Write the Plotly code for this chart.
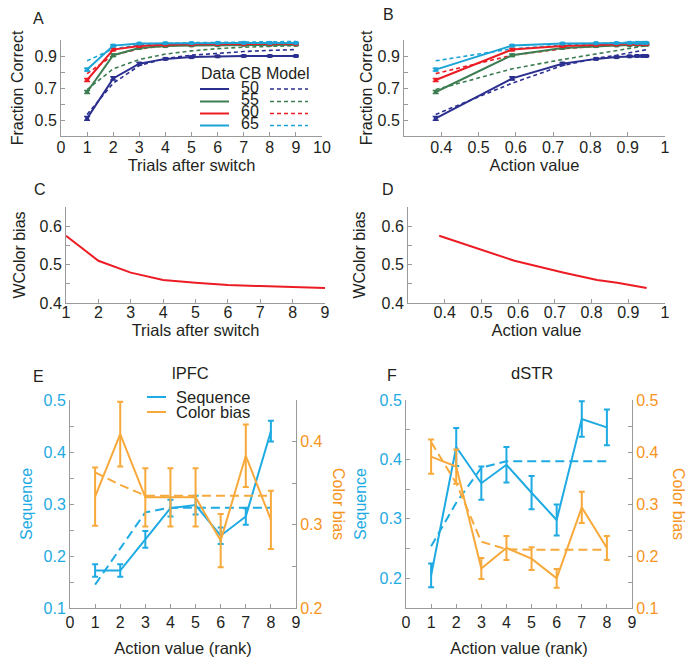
import plotly.graph_objects as go

# ---------------- data ----------------
trials = [1, 2, 3, 4, 5, 6, 7, 8, 9]
action_value = [0.385, 0.59, 0.725, 0.815, 0.87, 0.905, 0.925, 0.94, 0.95]

cb_labels = ["50", "55", "60", "65"]
data50 = [0.51, 0.76, 0.852, 0.882, 0.893, 0.898, 0.900, 0.900, 0.900]
data55 = [0.675, 0.905, 0.950, 0.962, 0.966, 0.968, 0.970, 0.970, 0.970]
data60 = [0.750, 0.940, 0.962, 0.970, 0.973, 0.975, 0.975, 0.976, 0.976]
data65 = [0.815, 0.965, 0.978, 0.980, 0.981, 0.982, 0.982, 0.982, 0.982]
err50 = [0.012, 0.010, 0.008, 0.006, 0.006, 0.005, 0.005, 0.005, 0.005]
err55 = [0.010, 0.008, 0.006, 0.005, 0.005, 0.004, 0.004, 0.004, 0.004]
err60 = [0.010, 0.007, 0.005, 0.004, 0.004, 0.004, 0.004, 0.004, 0.004]
err65 = [0.009, 0.006, 0.004, 0.004, 0.004, 0.004, 0.004, 0.004, 0.004]
model50 = [0.535, 0.730, 0.840, 0.885, 0.905, 0.918, 0.928, 0.935, 0.940]
model55 = [0.690, 0.820, 0.878, 0.912, 0.932, 0.946, 0.955, 0.961, 0.965]
model60 = [0.790, 0.905, 0.945, 0.963, 0.972, 0.977, 0.980, 0.982, 0.983]
model65 = [0.870, 0.945, 0.968, 0.978, 0.983, 0.986, 0.988, 0.989, 0.990]

wcolor_bias = [0.575, 0.510, 0.479, 0.460, 0.453, 0.447, 0.444, 0.441, 0.439]

rank = [1, 2, 3, 4, 5, 6, 7, 8]
lpfc_seq = [0.172, 0.172, 0.232, 0.292, 0.298, 0.239, 0.276, 0.440]
lpfc_seq_err = [0.012, 0.012, 0.016, 0.016, 0.018, 0.016, 0.016, 0.020]
lpfc_seq_model = [0.145, 0.215, 0.284, 0.293, 0.293, 0.293, 0.293, 0.293]
lpfc_cb = [0.334, 0.409, 0.333, 0.333, 0.333, 0.281, 0.383, 0.306]
lpfc_cb_err = [0.035, 0.039, 0.035, 0.035, 0.035, 0.032, 0.0375, 0.035]
lpfc_cb_model = [0.363, 0.348, 0.335, 0.335, 0.335, 0.335, 0.335, 0.335]

dstr_seq = [0.205, 0.421, 0.360, 0.391, 0.344, 0.298, 0.468, 0.454]
dstr_seq_err = [0.020, 0.032, 0.028, 0.030, 0.028, 0.026, 0.030, 0.030]
dstr_seq_model = [0.254, 0.327, 0.386, 0.397, 0.397, 0.397, 0.397, 0.397]
dstr_cb = [0.391, 0.372, 0.176, 0.2155, 0.195, 0.157, 0.2935, 0.2155]
dstr_cb_err = [0.033, 0.033, 0.020, 0.023, 0.022, 0.018, 0.030, 0.023]
dstr_cb_model = [0.419, 0.340, 0.2275, 0.213, 0.212, 0.212, 0.212, 0.212]

# ---------------- style ----------------
W, H = 695, 667
FONT = "Liberation Sans, Arial, sans-serif"
TXT = "#231f20"
AX = "#9a9a9a"
BLUE, GREEN, RED, CYAN = "#2b2f8f", "#3d7d52", "#ec1c24", "#1ba3d6"
SEQ, CBC, CBT = "#1eaae2", "#f7a93b", "#f7941d"
ser_colors = [BLUE, GREEN, RED, CYAN]
data_all = [data50, data55, data60, data65]
err_all = [err50, err55, err60, err65]
model_all = [model50, model55, model60, model65]
FS_TICK = 16
FS_TITLE = 16.5


def fx(p):
    return p / W


def fy(p):
    return 1 - p / H


fig = go.Figure()

# Panels A and B
for xs, xa, ya in [(trials, "x", "y"), (action_value, "x2", "y2")]:
    for c, m in zip(ser_colors, model_all):
        fig.add_trace(go.Scatter(x=xs, y=m, mode="lines", xaxis=xa, yaxis=ya,
                                 line=dict(color=c, width=1.6, dash="4px,3px"),
                                 showlegend=False, cliponaxis=False))
    for c, d, e in zip(ser_colors, data_all, err_all):
        fig.add_trace(go.Scatter(x=xs, y=d, mode="lines+markers", xaxis=xa, yaxis=ya,
                                 line=dict(color=c, width=2),
                                 marker=dict(color=c, size=4, symbol="square"),
                                 error_y=dict(type="data", array=e, color=c,
                                              thickness=1.5, width=3),
                                 showlegend=False, cliponaxis=False))

# Panels C and D
for xs, xa, ya in [(trials, "x3", "y3"), (action_value, "x4", "y4")]:
    fig.add_trace(go.Scatter(x=xs, y=wcolor_bias, mode="lines", xaxis=xa, yaxis=ya,
                             line=dict(color=RED, width=2), showlegend=False,
                             cliponaxis=False))

# Panels E and F
for xa, yl, yr, sq, sqe, sqm, cb, cbe, cbm in [
        ("x5", "y5", "y6", lpfc_seq, lpfc_seq_err, lpfc_seq_model,
         lpfc_cb, lpfc_cb_err, lpfc_cb_model),
        ("x6", "y7", "y8", dstr_seq, dstr_seq_err, dstr_seq_model,
         dstr_cb, dstr_cb_err, dstr_cb_model)]:
    fig.add_trace(go.Scatter(x=rank, y=cbm, mode="lines", xaxis=xa, yaxis=yr,
                             line=dict(color=CBC, width=2, dash="9px,5px"),
                             showlegend=False, cliponaxis=False))
    fig.add_trace(go.Scatter(x=rank, y=cb, mode="lines", xaxis=xa, yaxis=yr,
                             line=dict(color=CBC, width=2),
                             error_y=dict(type="data", array=cbe, color=CBC,
                                          thickness=2, width=3),
                             showlegend=False, cliponaxis=False))
    fig.add_trace(go.Scatter(x=rank, y=sqm, mode="lines", xaxis=xa, yaxis=yl,
                             line=dict(color=SEQ, width=2, dash="9px,5px"),
                             showlegend=False, cliponaxis=False))
    fig.add_trace(go.Scatter(x=rank, y=sq, mode="lines", xaxis=xa, yaxis=yl,
                             line=dict(color=SEQ, width=2),
                             error_y=dict(type="data", array=sqe, color=SEQ,
                                          thickness=2, width=3),
                             showlegend=False, cliponaxis=False))


def xax(x0, x1, rng, tickvals, ticktext, title, minor=None, anchor=None, standoff=0,
        lab_shift=0):
    d = dict(domain=[fx(x0), fx(x1)], range=rng, tickvals=tickvals, ticktext=ticktext,
             showline=True, linecolor=AX, linewidth=1, ticks="inside", ticklen=4,
             tickcolor=AX, showgrid=False, zeroline=False, automargin=False,
             ticklabelstandoff=lab_shift,
             tickfont=dict(family=FONT, size=FS_TICK, color=TXT),
             title=dict(text=title, font=dict(family=FONT, size=FS_TITLE, color=TXT),
                        standoff=standoff),
             anchor=anchor, fixedrange=True)
    if minor:
        d["minor"] = dict(tickvals=minor, ticks="inside", ticklen=4, tickcolor=AX)
    return d


def yax(y_top, y_bottom, rng, major, minor, title, color=TXT, anchor=None,
        side="left", overlaying=None, standoff=8):
    d = dict(domain=[fy(y_bottom), fy(y_top)], range=rng, tickvals=major,
             ticktext=[f"{v:.1f}" for v in major],
             showline=True, linecolor=AX, linewidth=1, ticks="inside", ticklen=4,
             tickcolor=AX, showgrid=False, zeroline=False, automargin=False,
             tickfont=dict(family=FONT, size=FS_TICK, color=color),
             minor=dict(tickvals=minor, ticks="inside", ticklen=4, tickcolor=AX),
             anchor=anchor, side=side, fixedrange=True)
    if title:
        d["title"] = dict(text=title, font=dict(family=FONT, size=16, color=color),
                          standoff=standoff)
    if overlaying:
        d["overlaying"] = overlaying
    return d


av_ticks = [0.4, 0.5, 0.6, 0.7, 0.8, 0.9, 1.0]
av_text = ["0.4", "0.5", "0.6", "0.7", "0.8", "0.9", "1"]
ten = list(range(0, 11))
nine = list(range(0, 10))

fig.update_layout(
    template="none",
    width=W, height=H, margin=dict(l=0, r=0, t=0, b=0, autoexpand=False),
    paper_bgcolor="white", plot_bgcolor="white", showlegend=False,
    font=dict(family=FONT, color=TXT),
    xaxis=xax(61, 322, [0, 10], ten, [str(v) for v in ten],
              "Trials after switch", anchor="y", lab_shift=-3),
    yaxis=yax(40, 136, [0.4, 1.0], [0.5, 0.7, 0.9], [0.4, 0.6, 0.8, 1.0],
              "Fraction Correct", anchor="x", standoff=6),
    xaxis2=xax(404, 665, [0.3, 1.0], av_ticks, av_text, "Action value",
               minor=[0.3], anchor="y2", lab_shift=-3),
    yaxis2=yax(40, 136, [0.4, 1.0], [0.5, 0.7, 0.9], [0.4, 0.6, 0.8, 1.0],
               "Fraction Correct", anchor="x2", standoff=0),
    xaxis3=xax(66, 325, [1, 9], trials, [str(v) for v in trials],
               "Trials after switch", anchor="y3", lab_shift=-5),
    yaxis3=yax(207, 303, [0.4, 0.65], [0.4, 0.5, 0.6], [0.45, 0.55, 0.65],
               "WColor bias", anchor="x3", standoff=9),
    xaxis4=xax(408, 665, [0.3, 1.0], av_ticks, av_text, "Action value",
               minor=[0.3], anchor="y4", lab_shift=-5),
    yaxis4=yax(207, 303, [0.4, 0.65], [0.4, 0.5, 0.6], [0.45, 0.55, 0.65],
               "WColor bias", anchor="x4", standoff=11),
    xaxis5=xax(70, 296, [0, 9], nine, [str(v) for v in nine],
               "Action value (rank)", anchor="y5", standoff=12),
    yaxis5=yax(400, 608, [0.1, 0.5], [0.1, 0.2, 0.3, 0.4, 0.5],
               [0.15, 0.25, 0.35, 0.45], "Sequence", color=SEQ, anchor="x5",
               standoff=6),
    yaxis6=yax(400, 608, [0.2, 0.45], [0.2, 0.3, 0.4], [0.25, 0.35, 0.45],
               None, color=CBT, anchor="x5", side="right", overlaying="y5"),
    xaxis6=xax(406, 632, [0, 9], nine, [str(v) for v in nine],
               "Action value (rank)", anchor="y7", standoff=12),
    yaxis7=yax(400, 608, [0.15, 0.5], [0.2, 0.3, 0.4, 0.5],
               [0.15, 0.25, 0.35, 0.45], "Sequence", color=SEQ, anchor="x6",
               standoff=8),
    yaxis8=yax(400, 608, [0.1, 0.5], [0.1, 0.2, 0.3, 0.4, 0.5],
               [0.15, 0.25, 0.35, 0.45], None, color=CBT, anchor="x6",
               side="right", overlaying="y7"),
)

ann = []


def text(x, y, s, size=16, color=TXT, angle=0, xanchor="center"):
    ann.append(dict(x=fx(x), y=fy(y), xref="paper", yref="paper", text=s,
                    showarrow=False, textangle=angle, xanchor=xanchor,
                    yanchor="middle", font=dict(family=FONT, size=size, color=color)))


for lab, x, y in [("A", 38, 18), ("B", 388, 15), ("C", 40, 189), ("D", 388, 189),
                  ("E", 38, 376), ("F", 392, 375)]:
    text(x, y, lab)
text(190, 373, "lPFC", size=16.5)
text(532, 373, "dSTR", size=16.5)
text(339, 504, "Color bias", color=CBT, angle=90)
text(679, 504, "Color bias", color=CBT, angle=90)

# legend of panel A
text(255, 73, "Data CB Model", size=16)
shapes = []
rows = [89, 101.5, 113.5, 125.5]
for lab, c, yy in zip(cb_labels, ser_colors, rows):
    text(250, yy - 2, lab, size=16)
    shapes.append(dict(type="line", xref="paper", yref="paper", x0=fx(200), x1=fx(229),
                       y0=fy(yy), y1=fy(yy), line=dict(color=c, width=2)))
    shapes.append(dict(type="line", xref="paper", yref="paper", x0=fx(270), x1=fx(308),
                       y0=fy(yy), y1=fy(yy), line=dict(color=c, width=1.6, dash="4px,3px")))

# legend of panel E
for lab, c, yy in [("Sequence", SEQ, 397), ("Color bias", CBC, 412)]:
    shapes.append(dict(type="line", xref="paper", yref="paper", x0=fx(147), x1=fx(166),
                       y0=fy(yy), y1=fy(yy), line=dict(color=c, width=2)))
    text(174, yy, lab, size=16.5, xanchor="left")

fig.update_layout(annotations=ann, shapes=shapes)
fig.write_html("out.html", config={"displayModeBar": False},
               post_script="document.body.style.margin='0px';"
                           "document.body.style.overflow='hidden';")
